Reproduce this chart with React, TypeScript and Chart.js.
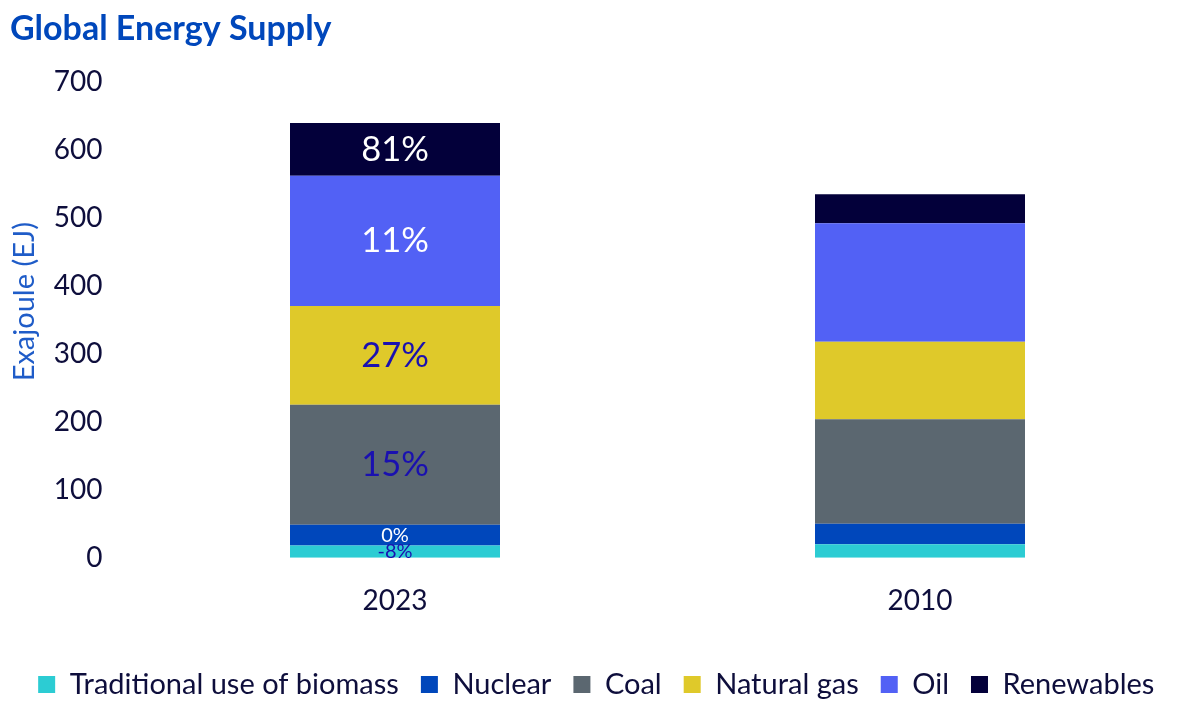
import React, { useEffect, useRef } from "react";
import { Chart, registerables } from "chart.js";

Chart.register(...registerables);

const categories = ["2023", "2010"];
const seriesNames = ["Traditional use of biomass", "Nuclear", "Coal", "Natural gas", "Oil", "Renewables"];
const biomass = [18.1, 19.7];
const nuclear = [30.4, 30.3];
const coal = [176.5, 153.5];
const gas = [145.0, 114.1];
const oil = [191.7, 174.2];
const renewables = [77.5, 42.6];
const growthLabels2023 = ["-8%", "0%", "15%", "27%", "11%", "81%"];
const yTicks = [0, 100, 200, 300, 400, 500, 600, 700];

const colors = ["#2CCCD3", "#0047BB", "#5B6770", "#DFC92A", "#5261F5", "#03003A"];
const labelColors = ["#1A10B0", "#FFFFFF", "#1A10B0", "#1A10B0", "#FFFFFF", "#FFFFFF"];
const labelSizes = [20, 20, 34.5, 34.5, 34.5, 34.5];

const FONT = "Lato";
const INK = "#0E0E3C";

const dataLabelPlugin = {
  id: "growthLabels",
  afterDatasetsDraw(chart: any) {
    const ctx = chart.ctx;
    ctx.save();
    ctx.textAlign = "center";
    ctx.textBaseline = "middle";
    chart.data.datasets.forEach((_ds: any, i: number) => {
      const meta = chart.getDatasetMeta(i);
      const el = meta.data[0];
      if (!el) return;
      const p = el.getProps(["x", "y", "base"], true);
      ctx.fillStyle = labelColors[i];
      ctx.font = `${labelSizes[i]}px ${FONT}`;
      ctx.fillText(growthLabels2023[i], p.x, (p.y + p.base) / 2);
    });
    ctx.restore();
  },
};

const yTitlePlugin = {
  id: "yTitle",
  afterDraw(chart: any) {
    const ctx = chart.ctx;
    const area = chart.chartArea;
    ctx.save();
    ctx.translate(25, (area.top + area.bottom) / 2 - 18);
    ctx.rotate(-Math.PI / 2);
    ctx.textAlign = "center";
    ctx.textBaseline = "middle";
    ctx.fillStyle = "#1F5CC8";
    ctx.font = `29px ${FONT}`;
    ctx.fillText("Exajoule (EJ)", 0, 0);
    ctx.restore();
  },
};

export default function App() {
  const ref = useRef<HTMLCanvasElement | null>(null);
  useEffect(() => {
    document.body.style.margin = "0";
    const series = [biomass, nuclear, coal, gas, oil, renewables];
    const chart = new Chart(ref.current as HTMLCanvasElement, {
      type: "bar",
      data: {
        labels: categories,
        datasets: series.map((d, i) => ({
          label: seriesNames[i],
          data: d,
          backgroundColor: colors[i],
          borderWidth: 0,
          categoryPercentage: 0.8,
          barPercentage: 0.5,
        })),
      },
      options: {
        animation: false,
        responsive: true,
        maintainAspectRatio: false,
        layout: { padding: { left: 10, right: 17.5, top: 0, bottom: 0 } },
        plugins: {
          tooltip: { enabled: false },
          title: {
            display: true,
            text: "Global Energy Supply",
            align: "start",
            color: "#0047BB",
            font: { family: FONT, size: 34, weight: "bold" },
            padding: { top: 8.4, bottom: 32.5 },
          },
          legend: {
            position: "bottom",
            labels: {
              boxWidth: 17,
              boxHeight: 17,
              padding: 22,
              color: INK,
              font: { family: FONT, size: 29 },
            },
          },
        },
        scales: {
          x: {
            stacked: true,
            grid: { display: false, drawTicks: false },
            border: { display: false },
            ticks: { color: INK, font: { family: FONT, size: 28 }, padding: 26 },
            afterFit: (scale: any) => {
              scale.height = 90.3;
            },
          },
          y: {
            stacked: true,
            min: 0,
            max: 700,
            afterBuildTicks: (scale: any) => {
              scale.ticks = yTicks.map((v) => ({ value: v }));
            },
            grid: { display: false, drawTicks: false },
            border: { display: false },
            ticks: { color: INK, font: { family: FONT, size: 28 }, padding: 30 },
            afterFit: (scale: any) => {
              scale.width = 122.5;
            },
          },
        },
      },
      plugins: [dataLabelPlugin, yTitlePlugin],
    } as any);
    return () => chart.destroy();
  }, []);
  return (
    <div style={{ position: "absolute", left: 0, top: 0, width: 1200, height: 709 }}>
      <canvas ref={ref} />
    </div>
  );
}
